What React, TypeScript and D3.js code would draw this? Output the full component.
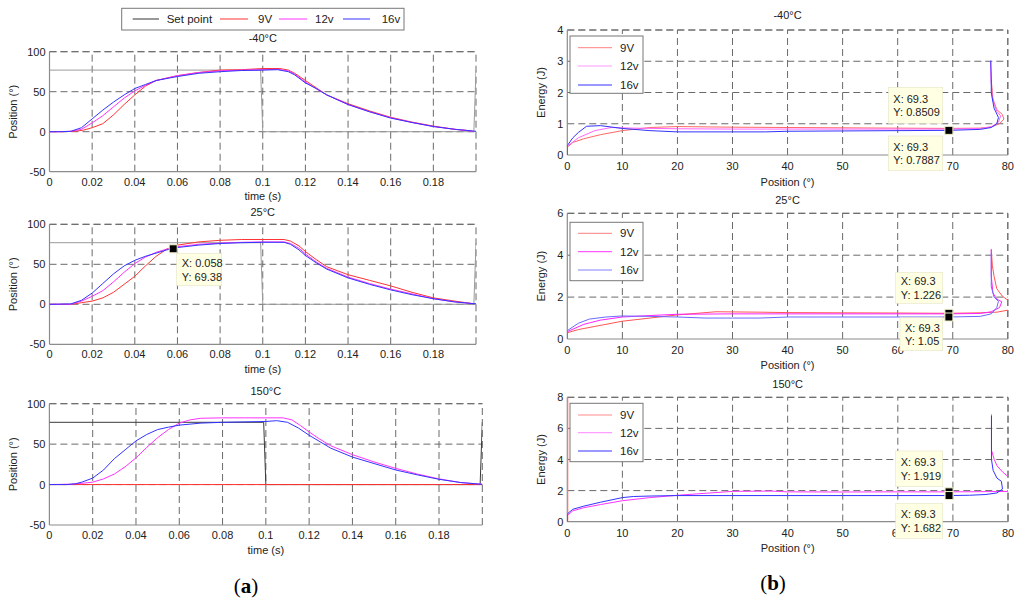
import * as d3 from "d3";

type Pt = [number, number];

// ---- left column: position vs time ----
const timeTicks = [0, 0.02, 0.04, 0.06, 0.08, 0.1, 0.12, 0.14, 0.16, 0.18];
const posTicks = [-50, 0, 50, 100];

const setPoint: Pt[] = [[0, 77], [0.099, 77], [0.1, 0], [0.199, 0], [0.2, 77]];

const m40_9V: Pt[] = [
  [0, 0], [0.005, 0], [0.012, 0.5], [0.016, 2], [0.02, 5], [0.025, 10], [0.03, 21], [0.035, 34],
  [0.04, 46], [0.045, 57], [0.05, 64], [0.06, 70], [0.07, 74], [0.08, 77], [0.09, 77.5],
  [0.1, 79], [0.108, 79], [0.112, 77], [0.115, 73], [0.12, 64], [0.125, 55], [0.13, 46],
  [0.14, 35], [0.15, 26], [0.16, 18], [0.17, 12], [0.18, 7], [0.19, 3], [0.198, 1],
];
const m40_12V: Pt[] = [
  [0, 0], [0.005, 0], [0.01, 0.5], [0.015, 3], [0.02, 11], [0.025, 20], [0.03, 31], [0.035, 42],
  [0.04, 51], [0.045, 58], [0.05, 64], [0.06, 70], [0.07, 74], [0.08, 76], [0.09, 77],
  [0.1, 77.5], [0.107, 78], [0.112, 76], [0.115, 72], [0.12, 62], [0.125, 54], [0.13, 46],
  [0.14, 34], [0.15, 25], [0.16, 17.5], [0.17, 11.5], [0.18, 6.5], [0.19, 3], [0.199, 0.5],
];
const m40_16V: Pt[] = [
  [0, 0], [0.005, 0], [0.01, 0.5], [0.015, 5], [0.02, 16], [0.025, 27], [0.03, 37], [0.035, 46],
  [0.04, 54], [0.045, 59], [0.05, 64], [0.06, 69], [0.07, 73], [0.08, 75], [0.09, 76.5],
  [0.1, 77], [0.107, 77.5], [0.112, 75], [0.115, 71], [0.12, 61], [0.125, 54], [0.13, 46],
  [0.14, 34], [0.15, 25], [0.16, 17], [0.17, 11.5], [0.18, 6.5], [0.19, 3], [0.2, 0.5],
];

const p25_9V: Pt[] = [
  [0, 0], [0.01, 0], [0.015, 2], [0.02, 4], [0.025, 8], [0.03, 15], [0.035, 25], [0.04, 35],
  [0.045, 48], [0.05, 60], [0.055, 69], [0.06, 74], [0.07, 78], [0.08, 80], [0.09, 81],
  [0.1, 81], [0.11, 81], [0.113, 79], [0.117, 73], [0.12, 66], [0.125, 56], [0.13, 47],
  [0.14, 37], [0.15, 30], [0.16, 23], [0.17, 15], [0.18, 8], [0.19, 4], [0.198, 1],
];
const p25_12V: Pt[] = [
  [0, 0], [0.01, 0], [0.015, 4], [0.02, 10], [0.025, 17], [0.03, 28], [0.035, 40], [0.04, 51],
  [0.045, 59], [0.05, 65], [0.055, 69], [0.06, 72], [0.07, 75], [0.08, 76.5], [0.09, 77.5],
  [0.1, 78], [0.11, 78], [0.113, 76], [0.117, 70], [0.12, 63], [0.125, 53], [0.13, 45],
  [0.14, 34], [0.15, 26], [0.16, 19], [0.17, 13], [0.18, 7], [0.19, 3], [0.2, 0.5],
];
const p25_16V: Pt[] = [
  [0, 0], [0.01, 0.5], [0.015, 5], [0.02, 14], [0.025, 26], [0.03, 38], [0.035, 48], [0.04, 55],
  [0.045, 60], [0.05, 64], [0.055, 68], [0.06, 71], [0.07, 74], [0.08, 76], [0.09, 77],
  [0.1, 77.5], [0.11, 77.5], [0.113, 75], [0.117, 68], [0.12, 61], [0.125, 52], [0.13, 44],
  [0.14, 33], [0.15, 25], [0.16, 18], [0.17, 12], [0.18, 7], [0.19, 3], [0.2, 0.5],
];

const p150_9V: Pt[] = [[0, 0], [0.2, 0]];
const p150_12V: Pt[] = [
  [0, 0], [0.01, 0.5], [0.015, 1.5], [0.02, 3], [0.025, 7], [0.03, 13], [0.035, 22], [0.04, 33],
  [0.045, 46], [0.05, 58], [0.055, 68], [0.06, 76], [0.065, 80], [0.07, 82], [0.08, 82.5],
  [0.09, 82.5], [0.1, 82.5], [0.108, 82.5], [0.112, 80], [0.116, 73], [0.12, 65], [0.125, 56],
  [0.13, 48], [0.14, 37], [0.15, 28], [0.16, 20], [0.17, 13], [0.18, 7], [0.19, 2.5], [0.2, 0.3],
];
const p150_16V: Pt[] = [
  [0, 0], [0.008, 0], [0.012, 1], [0.015, 3], [0.02, 8], [0.025, 18], [0.03, 32], [0.035, 43],
  [0.04, 54], [0.045, 62], [0.05, 68], [0.055, 71], [0.06, 73.5], [0.07, 76], [0.08, 77],
  [0.09, 77.5], [0.1, 78], [0.105, 79], [0.11, 77], [0.115, 70], [0.12, 61], [0.125, 53],
  [0.13, 45], [0.14, 34], [0.15, 26], [0.16, 18], [0.17, 12], [0.18, 6.5], [0.19, 2.5], [0.2, 0.3],
];

// ---- right column: energy vs position ----
const angleTicks = [0, 10, 20, 30, 40, 50, 60, 70, 80];

const e40_9V: Pt[] = [
  [0, 0], [0, 0.25], [1, 0.4], [3, 0.52], [6, 0.65], [10, 0.78], [15, 0.88], [20, 0.91],
  [30, 0.89], [40, 0.88], [50, 0.87], [60, 0.86], [69.3, 0.8509], [75, 0.86], [77, 0.9],
  [78.5, 1.0], [79.3, 1.15], [79, 1.3], [78, 1.45], [77.3, 1.8], [77, 2.4],
];
const e40_12V: Pt[] = [
  [0, 0], [0, 0.28], [2, 0.55], [5, 0.78], [8, 0.88], [12, 0.86], [20, 0.84], [30, 0.83],
  [40, 0.83], [50, 0.83], [60, 0.83], [69.3, 0.83], [75, 0.85], [77, 0.9], [78.3, 1.05],
  [78.7, 1.25], [78, 1.4], [77.2, 1.8], [76.9, 2.5], [76.9, 3.0],
];
const e40_16V: Pt[] = [
  [0, 0], [0, 0.3], [1, 0.55], [2, 0.72], [3.5, 0.92], [6, 0.94], [10, 0.85], [15, 0.78],
  [20, 0.74], [30, 0.74], [36, 0.74], [40, 0.76], [50, 0.77], [60, 0.78], [69.3, 0.7887],
  [75, 0.82], [77, 0.88], [78, 1.0], [78.3, 1.2], [77.5, 1.5], [77, 2.0], [77, 2.5], [76.9, 3.02],
];

const e25_9V: Pt[] = [
  [0, 0], [0, 0.3], [2, 0.45], [5, 0.6], [10, 0.85], [15, 1.0], [20, 1.15], [27, 1.3],
  [35, 1.28], [40, 1.26], [50, 1.25], [60, 1.24], [69.3, 1.226], [75, 1.25], [78, 1.28],
  [80.5, 1.4], [80.5, 1.75], [80, 1.85], [79, 2.05], [78, 2.4], [77.5, 3.0], [77.2, 3.5], [77, 4.25],
];
const e25_12V: Pt[] = [
  [0, 0], [0, 0.35], [3, 0.7], [6, 0.9], [10, 1.05], [15, 1.12], [20, 1.18], [30, 1.2],
  [40, 1.2], [50, 1.2], [60, 1.2], [69.3, 1.2], [75, 1.22], [77, 1.3], [78.5, 1.5],
  [78.9, 1.78], [78, 1.9], [77.3, 2.2], [77, 3.0], [77, 4.3],
];
const e25_16V: Pt[] = [
  [0, 0], [0, 0.4], [2, 0.75], [4, 0.95], [7, 1.05], [10, 1.1], [15, 1.08], [20, 1.05],
  [25, 1.0], [30, 1.0], [35, 1.0], [40, 1.05], [50, 1.05], [60, 1.05], [69.3, 1.05],
  [75, 1.08], [77, 1.2], [78, 1.5], [78.3, 1.8], [77.5, 2.0], [77, 2.5], [77, 3.2], [77, 4.1],
];

const e150_9V: Pt[] = [[0, 0], [0, 8]];
const e150_12V: Pt[] = [
  [0, 0], [0, 0.4], [1, 0.7], [3, 0.9], [6, 1.1], [10, 1.35], [15, 1.55], [20, 1.7],
  [30, 1.95], [37, 1.97], [40, 1.92], [50, 1.91], [60, 1.92], [69.3, 1.919], [75, 1.93],
  [80.5, 1.95], [80.5, 2.85], [80, 2.9], [79, 3.2], [78, 3.6], [77.5, 4.0], [77, 4.6], [77, 6.9],
];
const e150_16V: Pt[] = [
  [0, 0], [0, 0.5], [1, 0.8], [3, 1.0], [6, 1.25], [10, 1.55], [12, 1.62], [15, 1.65],
  [20, 1.68], [30, 1.68], [40, 1.68], [50, 1.68], [60, 1.68], [69.3, 1.682], [73, 1.7],
  [76, 1.75], [78, 1.85], [79, 2.1], [78.8, 2.6], [78, 2.8], [77.3, 3.3], [77, 4.0], [77, 5.0], [77, 6.8],
];

const legendLeft = ["Set point", "9V", "12v", "16v"];
const legendRight = ["9V", "12v", "16v"];

const RED = "#ff3333";
const MAG = "#ff33ff";
const BLUE = "#3333ff";
const FONT = "'Liberation Sans', Arial, sans-serif";
const GRID = "#6a6a6a";
const AXIS = "#8c8c8c";

type Series = { data: Pt[]; color: string; width?: number; opacity?: number };
type Tip = { x: number; y: number; bx: number; by: number; bw: number; bh: number };

type PanelProps = {
  id: string;
  xr: [number, number];
  yr: [number, number];
  xd: [number, number];
  yd: [number, number];
  xTicks: number[];
  yTicks: number[];
  series: Series[];
  title: string;
  titleY: number;
  xLabel: string;
  xLabelY: number;
  yLabel: string;
  yLabelX: number;
  tickLabelGap: number;
  tips?: Tip[];
  markers?: number[];
  markerX?: number;
};

function Panel(p: PanelProps) {
  const x = d3.scaleLinear().domain(p.xd).range(p.xr);
  const y = d3.scaleLinear().domain(p.yd).range(p.yr);
  const line = d3
    .line<Pt>()
    .x((d) => x(d[0]))
    .y((d) => y(d[1]));
  const [x0, x1] = p.xr;
  const [yb, yt] = p.yr;
  const fmt = (v: number) => String(+v.toFixed(4));

  return (
    <g fontFamily={FONT} fontSize={11}>
      <defs>
        <clipPath id={p.id}>
          <rect x={x0} y={yt} width={x1 - x0} height={yb - yt} />
        </clipPath>
      </defs>
      {/* grid */}
      <g stroke={GRID} strokeWidth={1} strokeDasharray="7,4" fill="none">
        {p.xTicks.filter((v) => v !== p.xd[0]).map((v) => (
          <line key={"gx" + v} x1={x(v)} x2={x(v)} y1={yb} y2={yt} />
        ))}
        {p.yTicks.filter((v) => v !== p.yd[0]).map((v) => (
          <line key={"gy" + v} x1={x0} x2={x1} y1={y(v)} y2={y(v)} />
        ))}
        <line x1={x1} x2={x1} y1={yb} y2={yt} />
        <line x1={x0} x2={x1} y1={yt} y2={yt} />
      </g>
      {/* axes */}
      <g stroke={AXIS} strokeWidth={1.2}>
        <line x1={x0} x2={x0} y1={yb} y2={yt} />
        <line x1={x0} x2={x1} y1={yb} y2={yb} />
      </g>
      {/* series */}
      <g clipPath={`url(#${p.id})`} fill="none">
        {p.series.map((s, i) => (
          <path
            key={i}
            d={line(s.data) ?? ""}
            stroke={s.color}
            strokeWidth={s.width ?? 1}
            strokeOpacity={s.opacity ?? 1}
            strokeLinejoin="round"
          />
        ))}
      </g>
      {/* tick labels */}
      {p.xTicks.map((v) => (
        <text key={"tx" + v} x={x(v)} y={yb + p.tickLabelGap} textAnchor="middle" fill="#222">
          {fmt(v)}
        </text>
      ))}
      {p.yTicks.map((v) => (
        <text key={"ty" + v} x={x0 - 4} y={y(v) + 4} textAnchor="end" fill="#222">
          {fmt(v)}
        </text>
      ))}
      <text x={(x0 + x1) / 2} y={p.titleY} textAnchor="middle" fill="#222">
        {p.title}
      </text>
      <text x={(x0 + x1) / 2} y={p.xLabelY} textAnchor="middle" fill="#222">
        {p.xLabel}
      </text>
      <text
        transform={`translate(${p.yLabelX},${(yb + yt) / 2}) rotate(-90)`}
        textAnchor="middle"
        fill="#222"
      >
        {p.yLabel}
      </text>
      {/* data tips */}
      {(p.tips ?? []).map((t, i) => (
        <g key={"tip" + i}>
          <rect x={t.bx} y={t.by} width={t.bw} height={t.bh} fill="#ffffe4" stroke="#e4e4c8" strokeWidth={0.6} />
          <text x={t.bx + 5} y={t.by + t.bh / 2 - 2.5} fill="#222">
            {"X: " + fmt(t.x)}
          </text>
          <text x={t.bx + 5} y={t.by + t.bh / 2 + 11} fill="#222">
            {"Y: " + fmt(t.y)}
          </text>
        </g>
      ))}
      {(p.markers ?? []).map((v, i) => (
        <rect
          key={"mk" + i}
          x={x(p.markerX ?? 0) - 4}
          y={y(v) - 4}
          width={8}
          height={8}
          fill="#000"
          stroke="#f2f2c8"
          strokeWidth={1}
        />
      ))}
    </g>
  );
}

function LegendBox({
  x,
  y,
  w,
  h,
  rows,
}: {
  x: number;
  y: number;
  w: number;
  h: number;
  rows: { label: string; color: string; lx: number; ly: number; len: number; tx: number }[];
}) {
  return (
    <g fontFamily={FONT} fontSize={11.5}>
      <rect x={x} y={y} width={w} height={h} fill="#fff" stroke="#777" strokeWidth={1} />
      {rows.map((r) => (
        <g key={r.label}>
          <line x1={r.lx} x2={r.lx + r.len} y1={r.ly} y2={r.ly} stroke={r.color} strokeWidth={1} />
          <text x={r.tx} y={r.ly + 4} fill="#222">
            {r.label}
          </text>
        </g>
      ))}
    </g>
  );
}

export default function App() {
  const leftX: [number, number] = [49.5, 476];
  const rightX: [number, number] = [567.3, 1007.8];
  const spColor = "#9a9a9a";
  return (
    <svg
      width={1024}
      height={601}
      viewBox="0 0 1024 601"
      style={{ position: "absolute", left: 0, top: 0, background: "#fff" }}
    >
      <rect width={1024} height={601} fill="#fff" />
      <Panel
        id="c1"
        xr={leftX}
        yr={[171.7, 51.7]}
        xd={[0, 0.2]}
        yd={[-50, 100]}
        xTicks={timeTicks}
        yTicks={posTicks}
        series={[
          { data: setPoint, color: spColor },
          { data: m40_9V, color: RED },
          { data: m40_12V, color: MAG },
          { data: m40_16V, color: BLUE },
        ]}
        title="-40°C"
        titleY={42}
        xLabel="time (s)"
        xLabelY={200}
        yLabel="Position (°)"
        yLabelX={17}
        tickLabelGap={14}
      />
      <Panel
        id="c2"
        xr={leftX}
        yr={[344.3, 224.3]}
        xd={[0, 0.2]}
        yd={[-50, 100]}
        xTicks={timeTicks}
        yTicks={posTicks}
        series={[
          { data: setPoint, color: spColor },
          { data: p25_9V, color: RED },
          { data: p25_12V, color: MAG },
          { data: p25_16V, color: BLUE },
        ]}
        title="25°C"
        titleY={215.5}
        xLabel="time (s)"
        xLabelY={373}
        yLabel="Position (°)"
        yLabelX={17}
        tickLabelGap={14}
        tips={[{ x: 0.058, y: 69.38, bx: 176.7, by: 253.3, bw: 45, bh: 32.4 }]}
        markers={[69.38]}
        markerX={0.058}
      />
      <Panel
        id="c3"
        xr={[49.4, 482.3]}
        yr={[525, 403.7]}
        xd={[0, 0.2]}
        yd={[-50, 100]}
        xTicks={timeTicks}
        yTicks={posTicks}
        series={[
          { data: setPoint, color: "#3a3a3a" },
          { data: p150_9V, color: RED },
          { data: p150_12V, color: MAG },
          { data: p150_16V, color: BLUE },
        ]}
        title="150°C"
        titleY={394.5}
        xLabel="time (s)"
        xLabelY={554}
        yLabel="Position (°)"
        yLabelX={17}
        tickLabelGap={14}
      />
      <Panel
        id="c4"
        xr={rightX}
        yr={[155, 30]}
        xd={[0, 80]}
        yd={[0, 4]}
        xTicks={angleTicks}
        yTicks={[0, 1, 2, 3, 4]}
        series={[
          { data: e40_9V, color: "#ff6666" },
          { data: e40_12V, color: "#ff66ff" },
          { data: e40_16V, color: BLUE },
        ]}
        title="-40°C"
        titleY={19}
        xLabel="Position (°)"
        xLabelY={186}
        yLabel="Energy (J)"
        yLabelX={545}
        tickLabelGap={15}
        tips={[
          { x: 69.3, y: 0.8509, bx: 888.3, by: 87.3, bw: 54.4, bh: 36 },
          { x: 69.3, y: 0.7887, bx: 888.3, by: 136, bw: 54.4, bh: 34.7 },
        ]}
        markers={[0.7887]}
        markerX={69.3}
      />
      <Panel
        id="c5"
        xr={rightX}
        yr={[339, 213.3]}
        xd={[0, 80]}
        yd={[0, 6]}
        xTicks={angleTicks}
        yTicks={[0, 2, 4, 6]}
        series={[
          { data: e25_9V, color: "#ff5555" },
          { data: e25_12V, color: "#ff22ff" },
          { data: e25_16V, color: "#6a6aff" },
        ]}
        title="25°C"
        titleY={204}
        xLabel="Position (°)"
        xLabelY={369}
        yLabel="Energy (J)"
        yLabelX={545}
        tickLabelGap={15}
        tips={[
          { x: 69.3, y: 1.226, bx: 895.7, by: 272.3, bw: 47, bh: 31 },
          { x: 69.3, y: 1.05, bx: 900, by: 317.7, bw: 42.7, bh: 33 },
        ]}
        markers={[1.226, 1.05]}
        markerX={69.3}
      />
      <Panel
        id="c6"
        xr={[567.3, 1008]}
        yr={[521.7, 397.3]}
        xd={[0, 80]}
        yd={[0, 8]}
        xTicks={angleTicks}
        yTicks={[0, 2, 4, 6, 8]}
        series={[
          { data: e150_9V, color: "#ff7a7a", width: 2 },
          { data: e150_12V, color: MAG },
          { data: e150_16V, color: BLUE },
        ]}
        title="150°C"
        titleY={387.5}
        xLabel="Position (°)"
        xLabelY={552}
        yLabel="Energy (J)"
        yLabelX={545}
        tickLabelGap={15}
        tips={[
          { x: 69.3, y: 1.919, bx: 895.7, by: 451, bw: 47, bh: 35.7 },
          { x: 69.3, y: 1.682, bx: 895.7, by: 503.3, bw: 47, bh: 35 },
        ]}
        markers={[1.919, 1.682]}
        markerX={69.3}
      />
      <LegendBox
        x={121.7}
        y={8.3}
        w={282.3}
        h={21.7}
        rows={legendLeft.map((label, i) => ({
          label,
          color: ["#333", RED, MAG, BLUE][i],
          lx: [132.7, 220, 279, 343][i],
          ly: 19,
          len: [26.3, 28, 28, 27][i],
          tx: [166.7, 258, 315, 381.7][i],
        }))}
      />
      {[
        { y: 36, h: 57.3, rows: [47.7, 66, 85], colors: ["#ff8080", "#ff99ff", BLUE] },
        { y: 222.3, h: 58.4, rows: [233.3, 251.7, 270], colors: ["#ff8080", MAG, "#8080ff"] },
        { y: 403.3, h: 58.4, rows: [415, 432.7, 451], colors: ["#ff8a8a", "#ff88ff", BLUE] },
      ].map((b, k) => (
        <LegendBox
          key={k}
          x={570}
          y={b.y}
          w={73}
          h={b.h}
          rows={legendRight.map((label, i) => ({
            label,
            color: b.colors[i],
            lx: 578,
            ly: b.rows[i],
            len: 34,
            tx: 620,
          }))}
        />
      ))}
      <text x={246} y={593} textAnchor="middle" fontFamily="'Liberation Serif', serif" fontSize={21}>
        (<tspan fontWeight="bold">a</tspan>)
      </text>
      <text x={773} y={590} textAnchor="middle" fontFamily="'Liberation Serif', serif" fontSize={21}>
        (<tspan fontWeight="bold">b</tspan>)
      </text>
    </svg>
  );
}
